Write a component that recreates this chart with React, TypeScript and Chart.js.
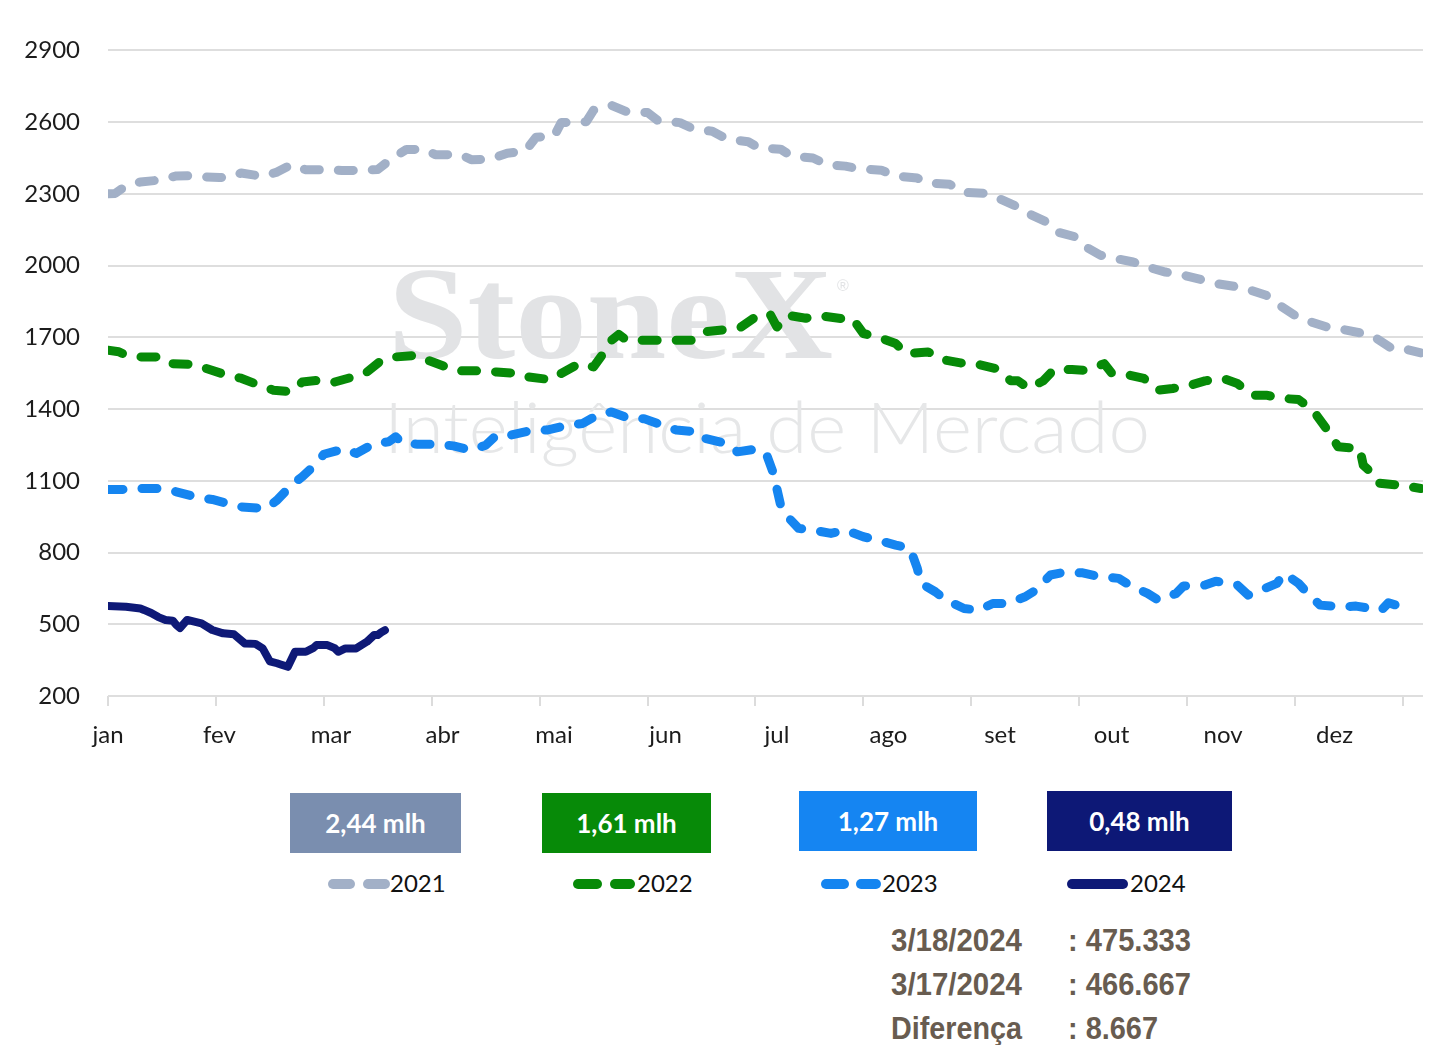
import React, { useEffect, useLayoutEffect, useRef } from "react";
import { Chart, registerables } from "chart.js";

Chart.register(...registerables);

// ---- axis data ----
const yMin = 200;
const yMax = 2900;
const yStep = 300;
const tickDays = [0, 30, 60, 90, 120, 150, 180, 210, 240, 270, 300, 330, 360];
const monthLabels = ["jan", "fev", "mar", "abr", "mai", "jun", "jul", "ago", "set", "out", "nov", "dez"];
const monthLabelDays = [0, 31, 62, 93, 124, 155, 186, 217, 248, 279, 310, 341];

// ---- series data (day of year, value) ----
const days2021 = [0, 2, 4, 9, 14, 19, 24, 27, 31, 34, 37, 43, 47, 51, 55, 62, 65, 71, 75, 79, 83, 88, 91, 98, 101, 106, 108, 111, 116, 119, 124, 126, 133, 135, 140, 144, 150, 153, 159, 163, 168, 172, 178, 181, 187, 190, 196, 200, 205, 209, 215, 219, 225, 228, 234, 238, 244, 247, 252, 255, 261, 264, 269, 271, 276, 279, 285, 289, 294, 298, 304, 308, 314, 317, 322, 325, 330, 333, 339, 342, 349, 352, 357, 360, 365];
const vals2021 = [2300, 2302, 2323, 2350, 2357, 2375, 2376, 2371, 2368, 2370, 2387, 2373, 2391, 2422, 2401, 2401, 2398, 2398, 2402, 2449, 2486, 2486, 2464, 2464, 2443, 2445, 2454, 2470, 2478, 2537, 2540, 2598, 2602, 2650, 2670, 2645, 2640, 2605, 2598, 2570, 2562, 2530, 2518, 2492, 2487, 2458, 2450, 2422, 2416, 2404, 2399, 2375, 2366, 2346, 2340, 2306, 2302, 2285, 2252, 2224, 2182, 2140, 2120, 2085, 2043, 2033, 2015, 1994, 1973, 1964, 1941, 1925, 1911, 1900, 1876, 1841, 1792, 1771, 1743, 1737, 1716, 1702, 1653, 1653, 1635];

const days2022 = [0, 3, 5, 9, 15, 18, 24, 27, 33, 37, 42, 46, 51, 54, 59, 63, 68, 72, 76, 80, 86, 89, 94, 97, 104, 108, 114, 117, 123, 126, 131, 135, 138, 140, 142, 144, 148, 163, 166, 172, 176, 180, 184, 186, 189, 194, 198, 204, 207, 210, 214, 219, 222, 228, 232, 237, 241, 247, 251, 253, 256, 260, 263, 268, 272, 277, 279, 284, 288, 292, 296, 301, 305, 310, 314, 318, 322, 327, 331, 335, 337, 340, 342, 348, 349, 352, 353, 359, 365];
const vals2022 = [1646, 1640, 1625, 1618, 1618, 1590, 1587, 1571, 1542, 1529, 1500, 1479, 1472, 1513, 1521, 1513, 1534, 1555, 1604, 1618, 1625, 1604, 1576, 1560, 1560, 1555, 1549, 1534, 1523, 1549, 1590, 1576, 1639, 1688, 1712, 1690, 1688, 1688, 1723, 1733, 1743, 1785, 1799, 1743, 1792, 1780, 1790, 1778, 1778, 1716, 1702, 1674, 1632, 1639, 1607, 1593, 1590, 1569, 1518, 1518, 1486, 1518, 1565, 1565, 1562, 1590, 1551, 1542, 1528, 1479, 1486, 1500, 1518, 1528, 1507, 1458, 1458, 1444, 1440, 1395, 1354, 1291, 1242, 1235, 1165, 1124, 1091, 1082, 1068];

const days2023 = [0, 6, 9, 15, 19, 25, 29, 34, 37, 44, 47, 51, 54, 58, 60, 66, 69, 74, 78, 80, 82, 86, 92, 96, 101, 105, 108, 112, 118, 122, 128, 132, 136, 140, 145, 149, 154, 158, 164, 166, 172, 175, 180, 183, 185, 187, 189, 192, 196, 201, 205, 210, 214, 219, 223, 225, 226, 230, 233, 238, 242, 246, 250, 255, 258, 262, 265, 271, 275, 281, 284, 289, 292, 297, 299, 305, 308, 314, 317, 321, 325, 327, 331, 334, 337, 343, 347, 354, 356, 361];
const vals2023 = [1064, 1064, 1068, 1068, 1054, 1030, 1022, 1002, 991, 984, 1019, 1082, 1117, 1173, 1211, 1235, 1214, 1256, 1263, 1284, 1256, 1253, 1253, 1246, 1228, 1249, 1291, 1291, 1312, 1312, 1333, 1340, 1374, 1388, 1360, 1360, 1333, 1312, 1305, 1277, 1256, 1221, 1232, 1214, 1131, 998, 949, 901, 894, 880, 894, 866, 852, 831, 817, 734, 671, 636, 601, 566, 559, 587, 587, 615, 643, 706, 715, 715, 701, 692, 664, 629, 601, 629, 660, 664, 680, 664, 622, 646, 671, 713, 671, 622, 580, 573, 576, 559, 590, 566];

const days2024 = [0, 5, 9, 10, 12, 14, 16, 18, 19, 20, 22, 26, 29, 32, 35, 38, 41, 43, 45, 47, 48, 50, 52, 55, 57, 58, 61, 63, 64, 66, 69, 72, 74, 75, 76, 77];
const vals2024 = [576, 573, 566, 560, 547, 530, 518, 515, 497, 484, 518, 504, 476, 462, 458, 420, 418, 399, 345, 337, 332, 322, 385, 385, 400, 413, 413, 400, 385, 399, 399, 427, 455, 455, 466.667, 475.333];

const seriesNames = ["2021", "2022", "2023", "2024"];
const boxLabels = ["2,44 mlh", "1,61 mlh", "1,27 mlh", "0,48 mlh"];
const statLabels = ["3/18/2024", "3/17/2024", "Diferença"];
const statValues = [": 475.333", ": 466.667", ": 8.667"];

// ---- styles / layout ----
const colors = ["#A2B0C7", "#078A08", "#1585F0", "#0E1977"];
const boxColors = ["#7A8EAF", "#078A08", "#1585F2", "#0D1876"];
const boxRects = [
  { left: 282, top: 785, width: 171, height: 60 },
  { left: 534, top: 785, width: 169, height: 60 },
  { left: 791, top: 783, width: 178, height: 60 },
  { left: 1039, top: 783, width: 185, height: 60 },
];
const legendPills = [
  [[320, 27], [355, 27]],
  [[565, 29], [602, 25]],
  [[813, 28], [848, 25]],
  [[1059, 61]],
];
const legendTextLeft = [382, 629, 874, 1122];
const statLabelWidths = [131, 131, 131];
const statValueWidths = [123, 123, 90];

function pts(days: number[], vals: number[]) {
  return days.map((d, i) => ({ x: d, y: vals[i] }));
}

function fitText(ctx: CanvasRenderingContext2D, text: string, font: string, x: number, y: number, w: number) {
  ctx.font = font;
  const m = ctx.measureText(text).width;
  ctx.save();
  ctx.translate(x, y);
  ctx.scale(w / m, 1);
  ctx.fillText(text, 0, 0);
  ctx.restore();
}

const decor = {
  id: "decor",
  beforeDatasetsDraw(chart: any) {
    const ctx = chart.ctx as CanvasRenderingContext2D;
    ctx.save();
    ctx.textAlign = "left";
    ctx.textBaseline = "alphabetic";
    ctx.fillStyle = "#e2e3e5";
    fitText(ctx, "StoneX", 'bold 132px "Liberation Serif", serif', 380, 350, 445);
    ctx.font = '16px "Liberation Sans", sans-serif';
    ctx.fillText("®", 829, 283);
    ctx.fillStyle = "#e6e7e8";
    fitText(ctx, "Inteligência de Mercado", '300 70px Lato, sans-serif', 376, 445, 766);
    ctx.restore();
  },
  afterDraw(chart: any) {
    const ctx = chart.ctx as CanvasRenderingContext2D;
    const xs = chart.scales.x;
    ctx.save();
    ctx.font = "24px Lato, sans-serif";
    ctx.fillStyle = "#1c1c1c";
    ctx.textAlign = "center";
    ctx.textBaseline = "alphabetic";
    monthLabels.forEach((lab, i) => {
      ctx.fillText(lab, xs.getPixelForValue(monthLabelDays[i]), chart.chartArea.bottom + 47);
    });
    ctx.restore();
  },
};

function FitSpan({ text, width, style }: { text: string; width: number; style: React.CSSProperties }) {
  const ref = useRef<HTMLSpanElement>(null);
  useLayoutEffect(() => {
    const el = ref.current;
    if (!el) return;
    el.style.transform = "none";
    const w = el.getBoundingClientRect().width;
    if (w > 0) el.style.transform = `scaleX(${width / w})`;
  }, [text, width]);
  return (
    <span
      ref={ref}
      style={{ ...style, display: "inline-block", transformOrigin: "left center", whiteSpace: "nowrap" }}
    >
      {text}
    </span>
  );
}

export default function App() {
  const ref = useRef<HTMLCanvasElement>(null);

  useEffect(() => {
    const all = [
      pts(days2021, vals2021),
      pts(days2022, vals2022),
      pts(days2023, vals2023),
      pts(days2024, vals2024),
    ];
    const chart = new Chart(ref.current as HTMLCanvasElement, {
      type: "line",
      data: {
        datasets: all.map((d, i) => ({
          label: seriesNames[i],
          data: d,
          borderColor: colors[i],
          backgroundColor: colors[i],
          borderWidth: i < 3 ? 9 : 8,
          borderDash: i < 3 ? [15, 19] : [],
          borderCapStyle: "round",
          borderJoinStyle: "round",
          pointRadius: 0,
          tension: 0,
          fill: false,
        })),
      },
      options: {
        animation: false,
        responsive: true,
        maintainAspectRatio: false,
        layout: { padding: { left: 0, right: 24, top: 42, bottom: 0 } },
        plugins: { legend: { display: false }, tooltip: { enabled: false } },
        scales: {
          x: {
            type: "linear",
            min: 0,
            max: 365.6,
            afterBuildTicks: (s: any) => {
              s.ticks = tickDays.map((v) => ({ value: v }));
            },
            afterFit: (s: any) => {
              s.height = 82;
            },
            ticks: { display: false },
            grid: {
              drawOnChartArea: false,
              drawTicks: true,
              tickLength: 10,
              color: "#dcdcdc",
              lineWidth: 2,
            },
            border: { display: false },
          },
          y: {
            min: yMin,
            max: yMax,
            afterFit: (s: any) => {
              s.width = 100;
            },
            ticks: {
              stepSize: yStep,
              padding: 28,
              color: "#1c1c1c",
              font: { family: "Lato, sans-serif", size: 24 },
              callback: (v: any) => String(v),
            },
            grid: { drawTicks: false, color: "#dedede", lineWidth: 2 },
            border: { display: false },
          },
        },
      },
      plugins: [decor],
    } as any);
    return () => chart.destroy();
  }, []);

  const statStyle: React.CSSProperties = {
    fontFamily: '"Liberation Sans", Arial, sans-serif',
    fontWeight: 700,
    fontSize: 31,
    lineHeight: "32px",
    color: "#685C50",
  };

  return (
    <div style={{ position: "relative", width: 1439, height: 1037, fontFamily: "Lato, sans-serif" }}>
      <div style={{ position: "absolute", left: 0, top: 0, width: 1439, height: 770 }}>
        <canvas ref={ref} />
      </div>
      {boxLabels.map((t, i) => (
        <div
          key={"b" + i}
          style={{
            position: "absolute",
            ...boxRects[i],
            background: boxColors[i],
            color: "#fff",
            fontWeight: 700,
            fontSize: 26,
            display: "flex",
            alignItems: "center",
            justifyContent: "center",
          }}
        >
          {t}
        </div>
      ))}
      {seriesNames.map((n, i) => (
        <React.Fragment key={"l" + i}>
          {legendPills[i].map((p, j) => (
            <div
              key={j}
              style={{
                position: "absolute",
                left: p[0],
                width: p[1],
                top: 871,
                height: 10,
                borderRadius: 5,
                background: colors[i],
              }}
            />
          ))}
          <div
            style={{
              position: "absolute",
              left: legendTextLeft[i],
              top: 863,
              fontSize: 24,
              lineHeight: "24px",
              color: "#111",
            }}
          >
            {n}
          </div>
        </React.Fragment>
      ))}
      {statLabels.map((s, i) => (
        <React.Fragment key={"s" + i}>
          <div style={{ position: "absolute", left: 883, top: 917 + i * 44 }}>
            <FitSpan text={s} width={statLabelWidths[i]} style={statStyle} />
          </div>
          <div style={{ position: "absolute", left: 1060, top: 917 + i * 44 }}>
            <FitSpan text={statValues[i]} width={statValueWidths[i]} style={statStyle} />
          </div>
        </React.Fragment>
      ))}
    </div>
  );
}
